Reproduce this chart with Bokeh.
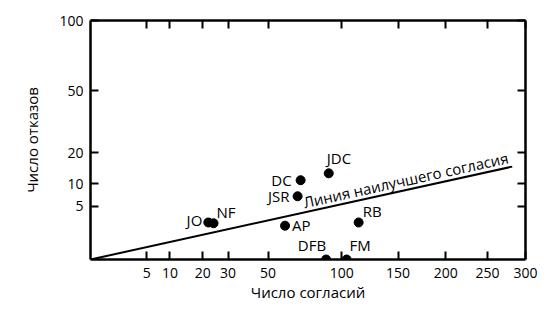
import numpy as np
from bokeh.plotting import figure
from bokeh.models import Range1d, LinearAxis, FixedTicker, ColumnDataSource
from bokeh.embed import file_html
from bokeh.resources import INLINE
from bokeh.core.properties import value

# ---- data ----
names = ["JO", "NF", "DC", "JSR", "JDC", "AP", "RB", "DFB", "FM"]
agreements = [22, 24, 70, 68, 90, 60, 114, 88, 104]
refusals = [2.4, 2.3, 11, 7, 13, 2, 2.4, 0, 0]
x_tick_values = [5, 10, 20, 30, 50, 100, 150, 200, 250, 300]
y_tick_values = [5, 10, 20, 50, 100]
fit_x = [0, 282]
fit_y = [0, 15.1]
fit_label = "Линия наилучшего согласия"
x_title = "Число согласий"
y_title = "Число отказов"

# ---- label styling per point (screen offsets, px; +y is down) ----
label_align = ["right", "left", "right", "right", "left", "left", "left", "right", "left"]
label_dx = [-6, 3, -9, -8, -2, 7, 4, 0, 3]
label_dy = [-2, -11, 0, 0, -15, -1, -11, -15, -15]

FONT = "Open Sans"
W, H = 552, 309
LB, RB_, TB, BB = 90, 27, 20, 50

sq = np.sqrt
xmax, ymax = max(x_tick_values), max(y_tick_values)

p = figure(width=W, height=H, output_backend="svg", toolbar_location=None,
           x_range=Range1d(0, sq(xmax)), y_range=Range1d(0, sq(ymax)),
           x_axis_type=None, y_axis_type=None,
           min_border_left=LB, min_border_right=RB_, min_border_top=TB, min_border_bottom=BB)
p.grid.visible = False
p.outline_line_color = None
p.background_fill_color = "white"
p.border_fill_color = "white"

xt = FixedTicker(ticks=[float(sq(v)) for v in x_tick_values])
yt = FixedTicker(ticks=[float(sq(v)) for v in y_tick_values])
x_over = {float(sq(v)): str(v) for v in x_tick_values}
y_over = {float(sq(v)): str(v) for v in y_tick_values}


def style(ax, labels):
    ax.axis_line_width = 2.5
    ax.axis_line_color = "black"
    ax.major_tick_in = 8
    ax.major_tick_out = 0
    ax.major_tick_line_color = "black"
    ax.major_tick_line_width = 2
    ax.minor_tick_line_color = None
    if labels:
        ax.major_label_text_font = FONT
        ax.major_label_text_font_size = "14px"
        ax.major_label_text_color = "black"
        ax.axis_label_text_font = FONT
        ax.axis_label_text_font_size = "15px"
        ax.axis_label_text_font_style = "normal"
        ax.axis_label_text_color = "black"
    else:
        ax.major_label_text_font_size = "0px"


bottom = LinearAxis(ticker=xt, major_label_overrides=x_over, axis_label=x_title)
style(bottom, True)
bottom.major_label_standoff = 8
bottom.axis_label_standoff = 1
left = LinearAxis(ticker=yt, major_label_overrides=y_over, axis_label=y_title)
style(left, True)
left.major_label_standoff = 7
left.axis_label_standoff = 14
top = LinearAxis(ticker=xt, major_label_overrides={k: "" for k in x_over})
style(top, False)
right = LinearAxis(ticker=yt, major_label_overrides={k: "" for k in y_over})
style(right, False)
p.add_layout(bottom, "below")
p.add_layout(left, "left")
p.add_layout(top, "above")
p.add_layout(right, "right")

frame_w = W - LB - RB_
frame_h = H - TB - BB
px_x = frame_w / sq(xmax)
px_y = frame_h / sq(ymax)

# best-fit line
fx = sq(np.array(fit_x, dtype=float))
fy = sq(np.array(fit_y, dtype=float))
p.line(fx, fy, line_color="black", line_width=2)

# label along the fit line
ang = np.arctan2((fy[1] - fy[0]) * px_y, (fx[1] - fx[0]) * px_x)
frac = 0.51
p.text(x=[fx[0] + frac * (fx[1] - fx[0])], y=[fy[0] + frac * (fy[1] - fy[0])],
       text=[fit_label], angle=float(ang), text_font=value(FONT), text_font_size="15px",
       text_color="black", text_align="left", text_baseline="bottom")

# points
src = ColumnDataSource(dict(
    x=sq(np.array(agreements, dtype=float)),
    y=sq(np.array(refusals, dtype=float)),
    name=names, align=label_align, dx=label_dx, dy=label_dy))
p.scatter("x", "y", source=src, size=9, fill_color="black", line_color="black")
p.text("x", "y", text="name", source=src, x_offset="dx", y_offset="dy",
       text_align="align", text_baseline="middle",
       text_font=value(FONT), text_font_size="15px", text_color="black")

open("out.html", "w").write(file_html(p, INLINE))
